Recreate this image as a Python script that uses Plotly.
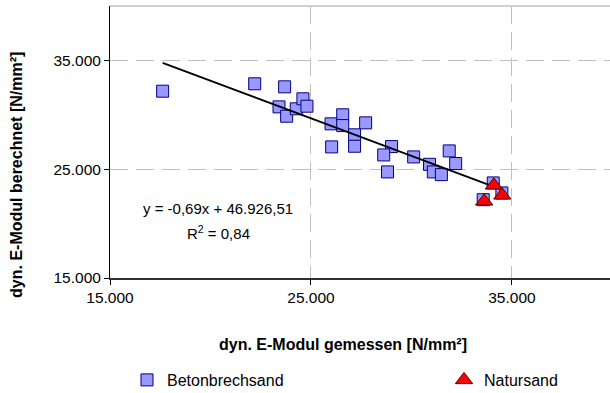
import numpy as np
import plotly.graph_objects as go

# Data
beton_x = [17620, 22200, 23690, 23410, 23790, 24270, 24600, 24800, 26000, 26580,
           26580, 26030, 27170, 27170, 27720, 29010, 28620, 28810, 30110, 30900,
           31090, 31490, 31880, 32200, 33570, 34070, 34500]
beton_y = [32170, 32850, 32570, 30730, 29870, 30550, 31470, 30790, 29170, 30000,
           29010, 27050, 28160, 27110, 29260, 27080, 26310, 24750, 26130, 25450,
           24750, 24500, 26680, 25520, 22200, 23740, 22820]
natur_x = [34100, 33620, 34520]
natur_y = [23520, 22050, 22600]

slope = -0.69
intercept = 46926.51
eq_text = "y = -0,69x + 46.926,51"
r2_text = "R<sup>2</sup> = 0,84"

tick_vals = [15000, 25000, 35000]
tick_text = ["15.000", "25.000", "35.000"]

all_x = beton_x + natur_x
line_x = [min(all_x), max(all_x)]
line_y = [slope * v + intercept for v in line_x]

FONT = "Liberation Sans, Arial, sans-serif"

fig = go.Figure()
fig.add_trace(go.Scatter(
    x=beton_x, y=beton_y, mode="markers", name="Betonbrechsand",
    legendwidth=272,
    marker=dict(symbol="square", size=12, color="#9999FF",
                line=dict(color="#000080", width=1)),
))
fig.add_trace(go.Scatter(
    x=line_x, y=line_y, mode="lines", showlegend=False,
    line=dict(color="black", width=1.8), hoverinfo="skip",
))
fig.add_trace(go.Scatter(
    x=natur_x, y=natur_y, mode="markers", name="Natursand",
    legendwidth=76,
    marker=dict(symbol="triangle-up", size=15, color="#FF0000",
                line=dict(color="#550000", width=1)),
))

axis_common = dict(
    tickvals=tick_vals, ticktext=tick_text,
    showgrid=True, gridcolor="#C0C0C0", griddash="18px,8px", gridwidth=1,
    zeroline=False, showline=True, ticks="outside", ticklen=5,
    tickcolor="#000000", tickfont=dict(family=FONT, size=15.5, color="#000000"),
    automargin=False,
)

fig.update_layout(
    width=610, height=393,
    margin=dict(l=110, r=0, t=6, b=115, autoexpand=False),
    paper_bgcolor="white", plot_bgcolor="white",
    separators=",.",
    font=dict(family=FONT, color="#000000"),
    xaxis=dict(range=[15000, 39880], linecolor="#303030", linewidth=1.5, **axis_common),
    yaxis=dict(range=[15000, 40000], linecolor="#000000", linewidth=1, **axis_common),
    showlegend=True,
    legend=dict(orientation="h", x=0.034, y=-0.375, xanchor="left", yanchor="middle",
                font=dict(family=FONT, size=16, color="#000000"),
                entrywidthmode="pixels",
                bgcolor="rgba(0,0,0,0)"),
    shapes=[dict(type="line", xref="paper", yref="paper", x0=0, x1=1, y0=1, y1=1,
                 line=dict(color="#C0C0C0", width=1.5))],
    annotations=[
        dict(text="dyn. E-Modul gemessen [N/mm²]", xref="paper", yref="paper",
             x=0.466, y=-0.246, xanchor="center", yanchor="middle", showarrow=False,
             font=dict(family=FONT, size=16, color="#000000", weight="bold")),
        dict(text="dyn. E-Modul berechnet [N/mm²]", xref="paper", yref="paper",
             x=-0.186, y=0.379, xanchor="center", yanchor="middle", showarrow=False,
             textangle=-90,
             font=dict(family=FONT, size=16, color="#000000", weight="bold")),
        dict(text=eq_text, xref="paper", yref="paper", x=0.216, y=0.254,
             xanchor="center", yanchor="middle", showarrow=False,
             font=dict(family=FONT, size=15, color="#000000")),
        dict(text=r2_text, xref="paper", yref="paper", x=0.216, y=0.1665,
             xanchor="center", yanchor="middle", showarrow=False,
             font=dict(family=FONT, size=15, color="#000000")),
    ],
)

fig.write_html("out.html", config={"displayModeBar": False},
               post_script="document.body.style.margin='0';")
